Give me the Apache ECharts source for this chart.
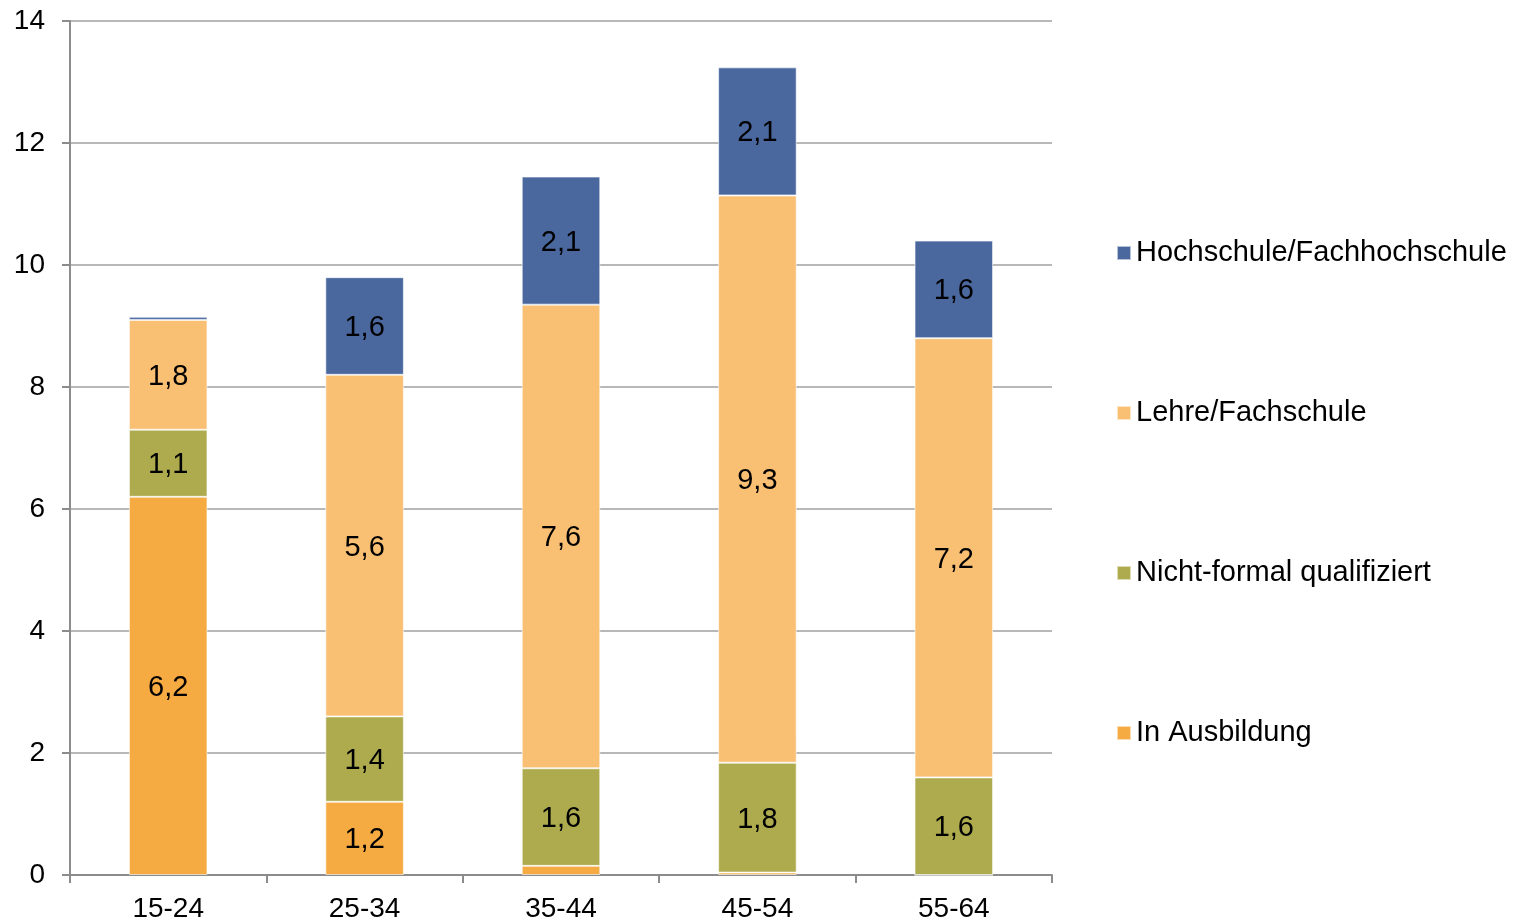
<!DOCTYPE html>
<html>
<head>
<meta charset="utf-8">
<script src="https://cdn.jsdelivr.net/npm/echarts@6/dist/echarts.min.js"></script>
<style>
  html, body { margin: 0; padding: 0; background: #fff; }
  #chart { width: 1517px; height: 923px; }
</style>
</head>
<body>
<div id="chart"></div>
<script>
// Age groups and stacked segments (values in the stacked order, bottom to top)
const categories = ['15-24', '25-34', '35-44', '45-54', '55-64'];
const inAusbildung = [6.2, 1.2, 0.15, 0.04, 0];
const nichtFormal = [1.1, 1.4, 1.6, 1.8, 1.6];
const lehreFachschule = [1.8, 5.6, 7.6, 9.3, 7.2];
const hochschule = [0.05, 1.6, 2.1, 2.1, 1.6];
const yTicks = { min: 0, max: 14, interval: 2 };

const font = 'Liberation Sans, Arial, sans-serif';

function seg(name, data, color) {
  return {
    name: name,
    type: 'bar',
    stack: 'total',
    data: data,
    barWidth: '40%',
    itemStyle: { color: color, borderColor: 'rgba(255,255,255,0.6)', borderWidth: 1 },
    label: {
      show: true,
      position: 'inside',
      offset: [0, 2],
      color: '#000',
      fontFamily: font,
      fontSize: 29,
      formatter: p => p.value >= 0.5 ? p.value.toFixed(1).replace('.', ',') : ''
    },
    emphasis: { disabled: true }
  };
}

const chart = echarts.init(document.getElementById('chart'));
chart.setOption({
  animation: false,
  backgroundColor: '#fff',
  grid: { left: 70, right: 465, top: 21, bottom: 48, containLabel: false },
  legend: {
    orient: 'vertical',
    left: 1111,
    top: 233,
    itemWidth: 14,
    itemHeight: 14,
    itemGap: 130,
    itemTextGap: 7,
    icon: 'rect',
    textStyle: { fontFamily: font, fontSize: 29, lineHeight: 30, color: '#000' },
    data: ['Hochschule/Fachhochschule', 'Lehre/Fachschule', 'Nicht-formal qualifiziert', 'In Ausbildung']
  },
  xAxis: {
    type: 'category',
    data: categories,
    boundaryGap: true,
    axisLine: { lineStyle: { color: '#8c8c8c', width: 2 } },
    axisTick: { show: true, length: 8, lineStyle: { color: '#8c8c8c', width: 2 } },
    axisLabel: { fontFamily: font, fontSize: 28, color: '#000', margin: 20 }
  },
  yAxis: {
    type: 'value',
    min: yTicks.min,
    max: yTicks.max,
    interval: yTicks.interval,
    axisLine: { show: true, lineStyle: { color: '#8c8c8c', width: 2 } },
    axisTick: { show: true, length: 8, lineStyle: { color: '#8c8c8c', width: 2 } },
    axisLabel: { fontFamily: font, fontSize: 28, color: '#000', margin: 25 },
    splitLine: { show: true, lineStyle: { color: '#a0a0a0', width: 1.5 } }
  },
  series: [
    seg('In Ausbildung', inAusbildung, '#F5AA42'),
    seg('Nicht-formal qualifiziert', nichtFormal, '#ADAB4E'),
    seg('Lehre/Fachschule', lehreFachschule, '#F9BF73'),
    seg('Hochschule/Fachhochschule', hochschule, '#4A679E')
  ]
});
</script>
</body>
</html>
